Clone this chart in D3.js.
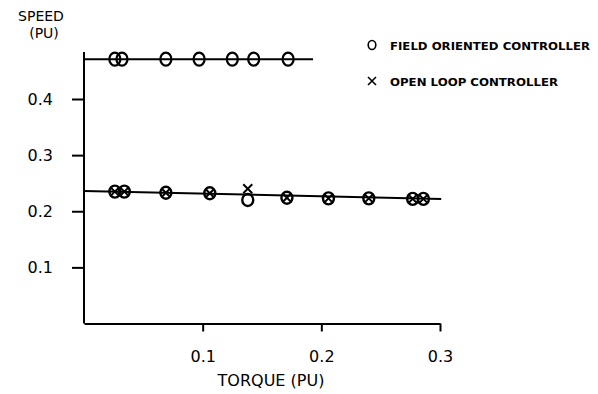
<!DOCTYPE html>
<html>
<head>
<meta charset="utf-8">
<script src="https://cdn.jsdelivr.net/npm/d3@7"></script>
<style>
  body { margin: 0; background: #fff; }
  svg { display: block; }
  text { font-family: "DejaVu Sans", sans-serif; fill: #000; }
</style>
</head>
<body>
<script>
  // torque (pu) / speed (pu)
  const focHighTorque = [0.026, 0.032, 0.069, 0.097, 0.125, 0.143, 0.172];
  const focHighSpeed = [0.471, 0.471, 0.471, 0.471, 0.471, 0.471, 0.471];

  const focLowTorque = [0.026, 0.034, 0.069, 0.106, 0.138, 0.171, 0.206, 0.24, 0.277, 0.286];
  const focLowSpeed = [0.235, 0.235, 0.233, 0.232, 0.22, 0.224, 0.223, 0.223, 0.222, 0.222];

  const olTorque = [0.026, 0.034, 0.069, 0.106, 0.138, 0.171, 0.206, 0.24, 0.277, 0.286];
  const olSpeed = [0.235, 0.235, 0.233, 0.232, 0.24, 0.224, 0.223, 0.223, 0.222, 0.222];

  // fitted lines [torque, speed]
  const fitHigh = [[0, 0.471], [0.193, 0.471]];
  const fitLow = [[0, 0.236], [0.301, 0.222]];

  const xTicks = [0.1, 0.2, 0.3];
  const yTicks = [0.1, 0.2, 0.3, 0.4];
  const legendLabels = ["FIELD ORIENTED CONTROLLER", "OPEN LOOP CONTROLLER"];

  const width = 598, height = 394;

  const svg = d3.select("body").append("svg")
    .attr("width", width)
    .attr("height", height);

  const x = d3.scaleLinear().domain([0, 0.3]).range([84, 440]);
  const y = d3.scaleLinear().domain([0, 0.4]).range([323.5, 99]);

  // axes
  svg.append("line")
    .attr("x1", x(0)).attr("x2", x(0))
    .attr("y1", 52).attr("y2", y(0))
    .attr("stroke", "#000").attr("stroke-width", 2);

  const xAxis = svg.append("g")
    .attr("transform", `translate(0,${y(0)})`)
    .call(d3.axisBottom(x).tickValues(xTicks).tickSize(8).tickSizeOuter(0)
      .tickFormat(d3.format(".1f")));
  xAxis.select(".domain").attr("stroke-width", 2);
  xAxis.selectAll(".tick line").attr("stroke-width", 2);
  xAxis.selectAll(".tick text")
    .attr("y", 27)
    .attr("font-size", 16)
    .attr("font-family", "DejaVu Sans");

  const yAxis = svg.append("g")
    .attr("transform", `translate(${x(0)},0)`)
    .call(d3.axisLeft(y).tickValues(yTicks).tickSize(12).tickSizeOuter(0)
      .tickFormat(d3.format(".1f")));
  yAxis.select(".domain").remove();
  yAxis.selectAll(".tick line").attr("stroke-width", 2);
  yAxis.selectAll(".tick text")
    .attr("x", -31)
    .attr("font-size", 16)
    .attr("font-family", "DejaVu Sans");

  // axis titles
  svg.append("text").attr("x", 41).attr("y", 21)
    .attr("text-anchor", "middle").attr("font-size", 14).text("SPEED");
  svg.append("text").attr("x", 44).attr("y", 38)
    .attr("text-anchor", "middle").attr("font-size", 14).text("(PU)");
  svg.append("text").attr("x", 271).attr("y", 386)
    .attr("text-anchor", "middle").attr("font-size", 16).text("TORQUE (PU)");

  // fitted lines
  const line = d3.line().x(d => x(d[0])).y(d => y(d[1]));
  [fitHigh, fitLow].forEach(f => {
    svg.append("path")
      .attr("d", line(f))
      .attr("fill", "none")
      .attr("stroke", "#000")
      .attr("stroke-width", 2);
  });

  // field oriented controller: circles
  const focHigh = focHighTorque.map((t, i) => ({ t, s: focHighSpeed[i] }));
  const focLow = focLowTorque.map((t, i) => ({ t, s: focLowSpeed[i] }));

  svg.append("g").selectAll("ellipse")
    .data(focHigh)
    .enter()
    .append("ellipse")
    .attr("cx", d => x(d.t)).attr("cy", d => y(d.s))
    .attr("rx", 5.5).attr("ry", 6.5)
    .attr("fill", "none").attr("stroke", "#000").attr("stroke-width", 2.2);

  svg.append("g").selectAll("ellipse")
    .data(focLow)
    .enter()
    .append("ellipse")
    .attr("cx", d => x(d.t)).attr("cy", d => y(d.s))
    .attr("rx", 5.5).attr("ry", 6)
    .attr("fill", "none").attr("stroke", "#000").attr("stroke-width", 2.4);

  // open loop controller: crosses
  const ol = olTorque.map((t, i) => ({ t, s: olSpeed[i] }));
  const cross = 4.5;
  svg.append("g").selectAll("path")
    .data(ol)
    .enter()
    .append("path")
    .attr("d", d => {
      const cx = x(d.t), cy = y(d.s);
      return `M${cx - cross},${cy - cross}L${cx + cross},${cy + cross}` +
        `M${cx - cross},${cy + cross}L${cx + cross},${cy - cross}`;
    })
    .attr("stroke", "#000").attr("stroke-width", 2);

  // legend
  const legend = svg.append("g");
  legend.append("ellipse")
    .attr("cx", 372).attr("cy", 45).attr("rx", 3.8).attr("ry", 4.5)
    .attr("fill", "none").attr("stroke", "#000").attr("stroke-width", 1.6);
  legend.append("path")
    .attr("d", "M368,77L376,85M368,85L376,77")
    .attr("stroke", "#000").attr("stroke-width", 1.6);
  legend.selectAll("text.lg")
    .data(legendLabels)
    .enter()
    .append("text")
    .attr("class", "lg")
    .attr("x", 390)
    .attr("y", (d, i) => 50 + i * 36)
    .attr("font-size", 11)
    .attr("font-weight", "bold")
    .attr("textLength", (d, i) => (i === 0 ? 200 : 168))
    .attr("lengthAdjust", "spacingAndGlyphs")
    .text(d => d);
</script>
</body>
</html>
